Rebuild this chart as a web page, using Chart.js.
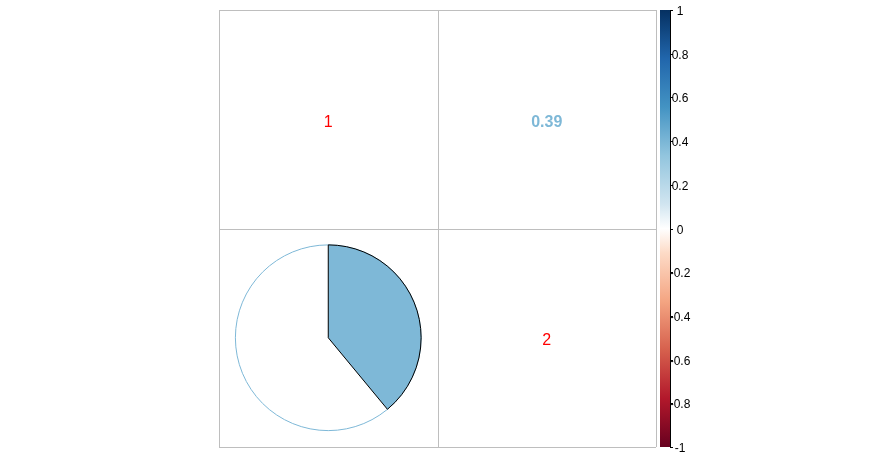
<!DOCTYPE html>
<html>
<head>
<meta charset="utf-8">
<script src="https://cdn.jsdelivr.net/npm/chart.js@4/dist/chart.umd.min.js"></script>
<style>
html,body{margin:0;padding:0;background:#fff;}
#wrap{width:895px;height:458px;position:relative;}
</style>
</head>
<body>
<div id="wrap"><canvas id="c"></canvas></div>
<script>
// ---- data ----
const varNames = ['1', '2'];
const corrRow1 = [1, 0.39];
const corrRow2 = [0.39, 1];
const colorbarTicks = [1, 0.8, 0.6, 0.4, 0.2, 0, -0.2, -0.4, -0.6, -0.8, -1];
const colorbarTickLabels = ['1', '0.8', '0.6', '0.4', '0.2', '0', '-0.2', '-0.4', '-0.6', '-0.8', '-1'];
const paletteStops = ['#67001F', '#B2182B', '#D6604D', '#F4A582', '#FDDBC7', '#FFFFFF', '#D1E5F0', '#92C5DE', '#4393C3', '#2166AC', '#053061'];
const paletteValues = [-1, -0.778, -0.556, -0.333, -0.111, 0, 0.111, 0.333, 0.556, 0.778, 1];

const corr = [corrRow1, corrRow2];
const n = varNames.length;

function hexToRgb(h){return [parseInt(h.slice(1,3),16),parseInt(h.slice(3,5),16),parseInt(h.slice(5,7),16)];}
function colorFor(v){
  let i = 0;
  while (i < paletteValues.length - 2 && v > paletteValues[i+1]) i++;
  const f = (v - paletteValues[i]) / (paletteValues[i+1] - paletteValues[i]);
  const a = hexToRgb(paletteStops[i]), b = hexToRgb(paletteStops[i+1]);
  const c = a.map((x,k)=>Math.round(x + (b[k]-x)*f));
  return 'rgb(' + c.join(',') + ')';
}

// points: cell centres (x = column, y = row counted from bottom)
const cellPoints = [];
for (let r = 0; r < n; r++) for (let c = 0; c < n; c++) {
  cellPoints.push({x: c + 0.5, y: n - r - 0.5, r: r, c: c});
}

const corrPlugin = {
  id: 'corrPlugin',
  afterDatasetsDraw(chart) {
    const ctx = chart.ctx;
    const xs = chart.scales.x, ys = chart.scales.y, cb = chart.scales.cb;
    const cellW = Math.abs(xs.getPixelForValue(1) - xs.getPixelForValue(0));
    ctx.save();
    cellPoints.forEach(p => {
      const cx = xs.getPixelForValue(p.x), cy = ys.getPixelForValue(p.y);
      const v = corr[p.r][p.c];
      if (p.r === p.c) {
        ctx.fillStyle = '#FF0000';
        ctx.font = '16px "Liberation Sans", Arial, sans-serif';
        ctx.textAlign = 'center'; ctx.textBaseline = 'middle';
        ctx.fillText(varNames[p.r], cx, cy + 3);
      } else if (p.c > p.r) {
        ctx.fillStyle = colorFor(v);
        ctx.font = 'bold 16px "Liberation Sans", Arial, sans-serif';
        ctx.textAlign = 'center'; ctx.textBaseline = 'middle';
        ctx.fillText(v.toFixed(2), cx, cy + 3);
      } else {
        const rad = cellW * 0.425;
        const col = colorFor(v);
        ctx.beginPath();
        ctx.arc(cx, cy, rad, 0, Math.PI * 2);
        ctx.strokeStyle = col; ctx.lineWidth = 1; ctx.stroke();
        const start = -Math.PI / 2;
        ctx.beginPath();
        ctx.moveTo(cx, cy);
        if (v >= 0) ctx.arc(cx, cy, rad, start, start + Math.PI*2*v, false);
        else ctx.arc(cx, cy, rad, start, start - Math.PI*2*Math.abs(v), true);
        ctx.closePath();
        ctx.fillStyle = col; ctx.fill();
        ctx.strokeStyle = '#000'; ctx.lineWidth = 1; ctx.stroke();
      }
    });
    // grid
    ctx.strokeStyle = '#BEBEBE'; ctx.lineWidth = 1;
    for (let i = 0; i <= n; i++) {
      const px = Math.round(xs.getPixelForValue(i)) + 0.5;
      ctx.beginPath(); ctx.moveTo(px, ys.getPixelForValue(0)); ctx.lineTo(px, ys.getPixelForValue(n)); ctx.stroke();
      const py = Math.round(ys.getPixelForValue(i)) + 0.5;
      ctx.beginPath(); ctx.moveTo(xs.getPixelForValue(0), py); ctx.lineTo(xs.getPixelForValue(n), py); ctx.stroke();
    }
    // colour bar
    const barL = xs.getPixelForValue(n) + 4, barR = barL + 10;
    const top = cb.getPixelForValue(1), bot = cb.getPixelForValue(-1);
    const grad = ctx.createLinearGradient(0, bot, 0, top);
    paletteStops.forEach((s, i) => grad.addColorStop((paletteValues[i] + 1) / 2, s));
    ctx.fillStyle = grad;
    ctx.fillRect(barL, top, barR - barL, bot - top);
    ctx.strokeStyle = '#000'; ctx.lineWidth = 1;
    ctx.beginPath(); ctx.moveTo(barR + 0.5, top); ctx.lineTo(barR + 0.5, bot); ctx.stroke();
    ctx.fillStyle = '#000';
    ctx.font = '12px "Liberation Sans", Arial, sans-serif';
    ctx.textAlign = 'center'; ctx.textBaseline = 'middle';
    colorbarTicks.forEach((t, i) => {
      const py = Math.round(cb.getPixelForValue(t)) + 0.5;
      ctx.beginPath(); ctx.moveTo(barR, py); ctx.lineTo(barR + 3, py); ctx.stroke();
      ctx.fillText(colorbarTickLabels[i], barR + 10, py + 1);
    });
    ctx.restore();
  }
};

new Chart(document.getElementById('c'), {
  type: 'scatter',
  data: {
    datasets: [{
      data: cellPoints.map(p => ({x: p.x, y: p.y})),
      pointRadius: 0,
      showLine: false
    }]
  },
  options: {
    responsive: true,
    maintainAspectRatio: false,
    animation: false,
    layout: {padding: {left: 219, right: 239, top: 10, bottom: 11}},
    plugins: {legend: {display: false}, tooltip: {enabled: false}},
    scales: {
      x: {type: 'linear', min: 0, max: n, display: false},
      y: {type: 'linear', min: 0, max: n, display: false},
      cb: {type: 'linear', min: -1, max: 1, display: false, position: 'right'}
    }
  },
  plugins: [corrPlugin]
});
</script>
</body>
</html>
